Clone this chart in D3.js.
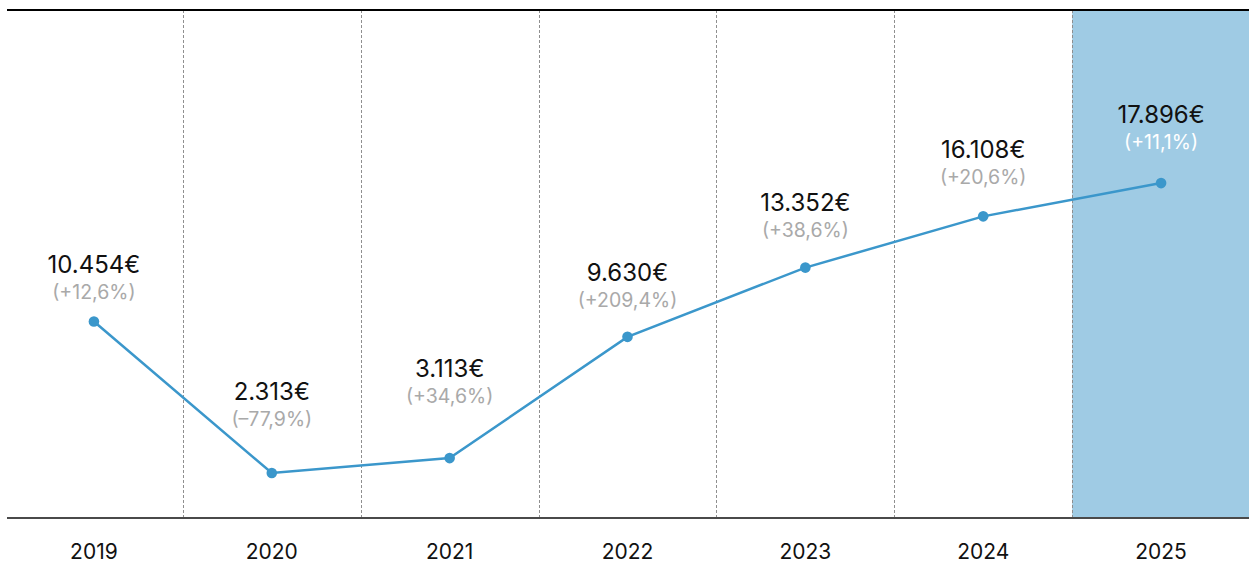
<!DOCTYPE html>
<html>
<head>
<meta charset="utf-8">
<script src="https://cdn.jsdelivr.net/npm/d3@7"></script>
<style>
  html, body { margin: 0; padding: 0; background: #fff; }
  svg { display: block; font-family: Inter, "Open Sans", sans-serif; }
</style>
</head>
<body>
<svg id="chart" width="1249" height="564"></svg>
<script>
// Yearly values (EUR) and year-over-year change labels
const years = ["2019", "2020", "2021", "2022", "2023", "2024", "2025"];
const values = [10454, 2313, 3113, 9630, 13352, 16108, 17896];
const changes = ["(+12,6%)", "(–77,9%)", "(+34,6%)", "(+209,4%)", "(+38,6%)", "(+20,6%)", "(+11,1%)"];
const highlightYear = "2025";
// distance (px) from each point up to its value label baseline
const labelLift = [49, 73, 81, 56, 57, 58, 60];

const W = 1249;
const plotTop = 10, plotBottom = 518;

const svg = d3.select("#chart");

const x = d3.scaleBand().domain(years).range([5, 1250]).padding(0);
const y = d3.scaleLinear().domain([0, 27200]).range([516, plotTop]);

const fmt = v => d3.format(",")(v).replace(/,/g, ".") + "€";

// highlighted column
svg.append("rect")
  .attr("x", x(highlightYear))
  .attr("y", plotTop)
  .attr("width", x.bandwidth())
  .attr("height", plotBottom - plotTop)
  .attr("fill", "#9fcbe4");

// dotted column dividers
svg.append("g")
  .selectAll("line")
  .data(years.slice(1))
  .join("line")
  .attr("x1", d => Math.round(x(d)) + 0.5)
  .attr("x2", d => Math.round(x(d)) + 0.5)
  .attr("y1", plotTop)
  .attr("y2", plotBottom)
  .attr("stroke", "#8f8f8f")
  .attr("stroke-width", 1)
  .attr("stroke-dasharray", "3,2");

// top rule
svg.append("line")
  .attr("x1", 7).attr("x2", W)
  .attr("y1", plotTop).attr("y2", plotTop)
  .attr("stroke", "#000").attr("stroke-width", 1.8);

// bottom axis with year labels
const xAxis = d3.axisBottom(x).tickSize(0).tickPadding(0);
const axisG = svg.append("g")
  .attr("transform", `translate(0,${plotBottom})`)
  .call(xAxis);
axisG.select(".domain").remove();
axisG.selectAll("text")
  .attr("y", 41)
  .attr("dy", null)
  .attr("font-size", 21)
  .attr("font-family", "Inter, sans-serif")
  .attr("fill", "#111");
svg.append("line")
  .attr("x1", 7).attr("x2", W)
  .attr("y1", plotBottom).attr("y2", plotBottom)
  .attr("stroke", "#4a4a4a").attr("stroke-width", 1.8);

const cx = d => x(d) + x.bandwidth() / 2;

// line
const line = d3.line()
  .x((d, i) => cx(years[i]))
  .y(d => y(d));
svg.append("path")
  .datum(values)
  .attr("d", line)
  .attr("fill", "none")
  .attr("stroke", "#3b97cb")
  .attr("stroke-width", 2.5);

// points
svg.append("g")
  .selectAll("circle")
  .data(values)
  .join("circle")
  .attr("cx", (d, i) => cx(years[i]))
  .attr("cy", d => y(d))
  .attr("r", 5.3)
  .attr("fill", "#3b97cb");

// value labels
const labels = svg.append("g").attr("text-anchor", "middle");
labels.selectAll("text.val")
  .data(values)
  .join("text")
  .attr("class", "val")
  .attr("x", (d, i) => cx(years[i]))
  .attr("y", (d, i) => y(d) - labelLift[i])
  .attr("font-size", 24)
  .attr("letter-spacing", 0)
  .attr("fill", "#111")
  .text(fmt);

labels.selectAll("text.chg")
  .data(changes)
  .join("text")
  .attr("class", "chg")
  .attr("x", (d, i) => cx(years[i]))
  .attr("y", (d, i) => y(values[i]) - labelLift[i] + 26)
  .attr("font-size", 19.5)
  .attr("letter-spacing", 0)
  .attr("fill", (d, i) => years[i] === highlightYear ? "#ffffff" : "#a9a9a9")
  .text(d => d);
</script>
</body>
</html>
